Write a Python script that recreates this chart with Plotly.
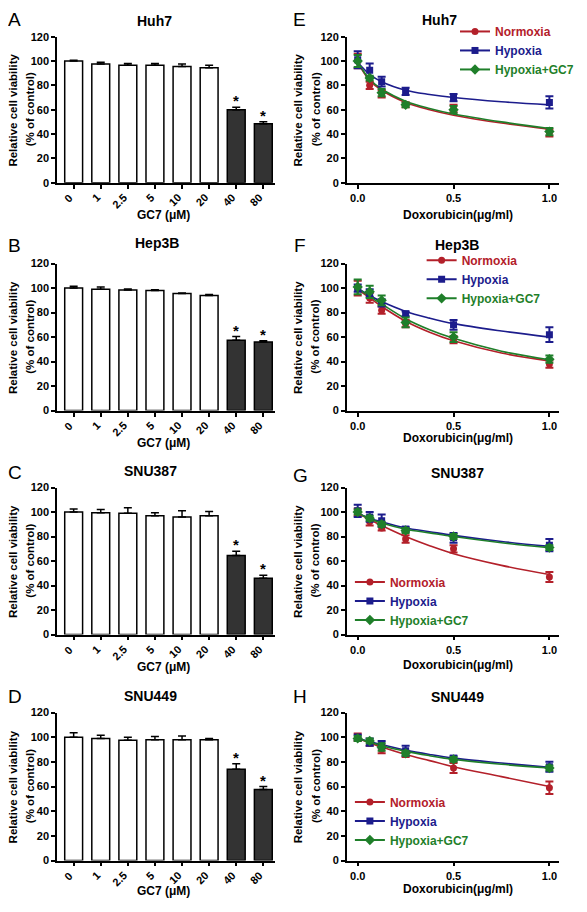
import plotly.graph_objects as go

# ---------------- DATA ----------------
gc7_conc = ["0", "1", "2.5", "5", "10", "20", "40", "80"]

huh7_bar = [100, 97.5, 96.5, 96.5, 95.5, 94.5, 60, 48.5]
huh7_bar_err = [0.7, 1.5, 1.5, 1.5, 2, 2, 2, 1.5]
hep3b_bar = [100, 99, 98.5, 98, 95.5, 94, 57.5, 56]
hep3b_bar_err = [1.5, 2, 0.8, 0.6, 0.5, 0.7, 3, 1]
snu387_bar = [100, 99.5, 99, 97, 96, 97, 64.5, 46]
snu387_bar_err = [2.5, 2.5, 4.5, 2.5, 5, 3.5, 3.5, 2.5]
snu449_bar = [100, 99, 97.5, 98, 98, 98, 74, 57.5]
snu449_bar_err = [3.5, 2.5, 2.5, 2.5, 3, 1, 4.5, 2.5]
bar_significant = [False, False, False, False, False, False, True, True]

dox = [0, 0.0625, 0.125, 0.25, 0.5, 1.0]
dox_ticks = [0, 0.5, 1.0]
dox_ticklabels = ["0.0", "0.5", "1.0"]
fit_x = [0, 0.0625, 0.125, 0.25, 0.375, 0.5, 0.75, 1.0]

huh7_norm = [100, 80, 73, 64, 61, 41]
huh7_norm_err = [6, 3, 3, 2, 3, 3]
huh7_hyp = [101, 92.5, 83, 75, 70, 66]
huh7_hyp_err = [7, 5.5, 4, 3, 3, 5]
huh7_gc7 = [100, 86, 74, 64, 60, 42]
huh7_gc7_err = [5, 2, 3, 2, 3, 3]
huh7_norm_fit = [99, 84, 76, 66, 60, 55.5, 49, 44]
huh7_hyp_fit = [99, 89, 83, 76, 72.5, 70, 66.5, 64]
huh7_gc7_fit = [99, 85, 77, 67, 61, 56.5, 50, 44.5]

hep3b_norm = [100, 92, 82, 71, 58, 38]
hep3b_norm_err = [6, 4, 3, 3, 3, 3]
hep3b_hyp = [100, 96, 88, 79, 70, 62]
hep3b_hyp_err = [3, 3, 3, 2, 4, 6]
hep3b_gc7 = [101, 97, 90, 72, 60, 42]
hep3b_gc7_err = [6, 5, 4, 4, 4, 3]
hep3b_norm_fit = [99, 92, 85, 73, 64, 57, 47, 40.5]
hep3b_hyp_fit = [100, 94, 89, 81, 75.5, 71, 65, 60]
hep3b_gc7_fit = [100, 93, 87, 75, 66, 59, 48.5, 41.5]

snu387_norm = [100, 92, 87, 78, 70, 47]
snu387_norm_err = [3, 3, 2, 3, 3, 4]
snu387_hyp = [101, 96, 93, 86, 79, 73]
snu387_hyp_err = [5, 4, 5, 2, 4, 5]
snu387_gc7 = [100, 95, 90, 85, 80, 71]
snu387_gc7_err = [2, 2, 2, 2, 2, 2]
snu387_norm_fit = [99, 94, 89, 80, 72.5, 66, 56.5, 49]
snu387_hyp_fit = [99, 95, 92, 87, 84, 81, 76, 72]
snu387_gc7_fit = [99, 94.5, 91, 86, 83, 80, 75, 71]

snu449_norm = [100, 95, 90, 86, 75, 59]
snu449_norm_err = [3, 2, 3, 2, 4, 5]
snu449_hyp = [100, 96, 94, 89, 83, 76]
snu449_hyp_err = [2, 3, 3, 4, 2, 4]
snu449_gc7 = [99, 97, 92, 87, 82, 75]
snu449_gc7_err = [2, 2, 3, 2, 2, 2]
snu449_norm_fit = [99, 95.5, 92, 86, 81, 76, 68, 60]
snu449_hyp_fit = [99, 96.5, 94, 89.5, 86, 83, 79, 75.5]
snu449_gc7_fit = [99, 96, 93, 88.5, 85, 82, 78, 75]

cell_lines = ["Huh7", "Hep3B", "SNU387", "SNU449"]
series_names = ["Normoxia", "Hypoxia", "Hypoxia+GC7"]

# ---------------- STYLE / LAYOUT ----------------
PAGE_W, PAGE_H = 587, 912
OFF = 8  # default body margin of the html page
W, H = PAGE_W - 2 * OFF, PAGE_H - 2 * OFF
FONT = "Liberation Sans, Arial, sans-serif"
RED, BLUE, GREEN = "#B3202A", "#1C1C8C", "#1F7F2A"
series_colors = [RED, BLUE, GREEN]
series_symbols = ["circle", "square", "diamond"]


def px_x(v):
    return (v - OFF) / W


def px_y(v):
    return 1 - (v - OFF) / H


left_x = (58, 280)
right_x = (353, 569)
rows_y = [(31, 179), (261, 410), (488, 637), (716, 866)]

bar_sets = [
    (huh7_bar, huh7_bar_err), (hep3b_bar, hep3b_bar_err),
    (snu387_bar, snu387_bar_err), (snu449_bar, snu449_bar_err),
]
line_sets = [
    [(huh7_norm, huh7_norm_err, huh7_norm_fit), (huh7_hyp, huh7_hyp_err, huh7_hyp_fit), (huh7_gc7, huh7_gc7_err, huh7_gc7_fit)],
    [(hep3b_norm, hep3b_norm_err, hep3b_norm_fit), (hep3b_hyp, hep3b_hyp_err, hep3b_hyp_fit), (hep3b_gc7, hep3b_gc7_err, hep3b_gc7_fit)],
    [(snu387_norm, snu387_norm_err, snu387_norm_fit), (snu387_hyp, snu387_hyp_err, snu387_hyp_fit), (snu387_gc7, snu387_gc7_err, snu387_gc7_fit)],
    [(snu449_norm, snu449_norm_err, snu449_norm_fit), (snu449_hyp, snu449_hyp_err, snu449_hyp_fit), (snu449_gc7, snu449_gc7_err, snu449_gc7_fit)],
]

letters_left = ["A", "B", "C", "D"]
letters_right = ["E", "F", "G", "H"]
letter_pos_left = [(15, 14), (15, 243), (15, 473), (15, 700)]
letter_pos_right = [(305, 14), (305, 243), (306, 476), (305, 700)]
title_pos_left = [(157, 15), (160, 240), (153, 471), (153, 699)]
title_pos_right = [(447, 14), (465, 242), (466, 473), (466, 700)]
xtitle_y_left = [212, 443, 670, 897]
xtitle_y_right = [212, 438, 668, 895]
legend_pos = [(463, 11), (429, 243), (356, 569), (356, 792)]

fig = go.Figure()
layout = dict(
    width=W, height=H, autosize=False,
    margin=dict(l=0, r=0, t=0, b=0),
    paper_bgcolor="white", plot_bgcolor="white",
    showlegend=True,
    font=dict(family=FONT, color="black"),
)
annotations = []


def axis_style():
    return dict(
        showline=True, linewidth=1.8, linecolor="black", mirror=False,
        ticks="outside", ticklen=4, tickwidth=1.5, tickcolor="black",
        showgrid=False, zeroline=False,
        tickfont=dict(family=FONT, size=11, color="black", weight="bold"),
    )


def add_axes(idx, xdom, ydom, xopts):
    xa = "xaxis" if idx == 1 else f"xaxis{idx}"
    ya = "yaxis" if idx == 1 else f"yaxis{idx}"
    xd = axis_style()
    xd.update(domain=[px_x(xdom[0]), px_x(xdom[1])], anchor=f"y{idx}" if idx > 1 else "y")
    xd.update(xopts)
    yd = axis_style()
    yd.update(domain=[px_y(ydom[1]), px_y(ydom[0])], anchor=f"x{idx}" if idx > 1 else "x",
              range=[0, 120], tickvals=list(range(0, 121, 20)))
    layout[xa] = xd
    layout[ya] = yd


def ann(text, x, y, size, bold=True, angle=0, color="black"):
    annotations.append(dict(
        text=text, x=px_x(x), y=px_y(y), xref="paper", yref="paper",
        xanchor="center", yanchor="middle", showarrow=False, textangle=angle,
        font=dict(family=FONT, size=size, color=color, weight="bold" if bold else "normal"),
    ))


# ---- Left column: bar charts ----
for r in range(4):
    idx = r + 1
    xr = f"x{idx}" if idx > 1 else "x"
    yr = f"y{idx}" if idx > 1 else "y"
    vals, errs = bar_sets[r]
    add_axes(idx, left_x, rows_y[r], dict(
        range=[-0.61, 7.44], tickmode="array", tickvals=list(range(len(gc7_conc))),
        showticklabels=False,
    ))
    fills = ["#333333" if s else "white" for s in bar_significant]
    fig.add_trace(go.Bar(
        x=list(range(len(gc7_conc))), y=vals, width=0.66,
        marker=dict(color=fills, line=dict(color="black", width=1.5)),
        error_y=dict(type="data", array=errs, arrayminus=[0] * len(errs), symmetric=False,
                     color="black", thickness=1.5, width=4),
        xaxis=xr, yaxis=yr, showlegend=False,
    ))
    # rotated category labels
    for i, lab in enumerate(gc7_conc):
        annotations.append(dict(
            text=lab, x=i, y=px_y(rows_y[r][1]), xref=xr, yref="paper",
            xanchor="right", yanchor="top", xshift=4, yshift=-6, textangle=-45,
            showarrow=False, font=dict(family=FONT, size=11, color="black", weight="bold"),
        ))
    for i, s in enumerate(bar_significant):
        if s:
            annotations.append(dict(
                text="*", x=i, y=vals[i] + errs[i], xref=xr, yref=yr,
                xanchor="center", yanchor="bottom", yshift=-4, showarrow=False,
                font=dict(family=FONT, size=15, color="black", weight="bold"),
            ))
    ann(letters_left[r], *letter_pos_left[r], 19, bold=False)
    ann(cell_lines[r], *title_pos_left[r], 14)
    ann("Relative cell viability", 13, (rows_y[r][0] + rows_y[r][1]) / 2, 11.5, angle=-90)
    ann("(% of control)", 30, (rows_y[r][0] + rows_y[r][1]) / 2, 11.5, angle=-90)
    ann("GC7 (\u03bcM)", 166, xtitle_y_left[r], 12)

# ---- Right column: dose-response curves ----
for r in range(4):
    idx = r + 5
    xa = f"x{idx}"
    ya = f"y{idx}"
    add_axes(idx, right_x, rows_y[r], dict(
        range=[-0.056, 1.051], tickmode="array", tickvals=dox_ticks, ticktext=dox_ticklabels,
        tickangle=0,
    ))
    legname = "legend" if r == 0 else f"legend{r + 1}"
    lx, ly = legend_pos[r]
    layout[legname] = dict(
        x=px_x(lx), y=px_y(ly), xanchor="left", yanchor="top",
        bgcolor="rgba(0,0,0,0)", borderwidth=0,
        font=dict(family=FONT, size=12, weight="bold"), tracegroupgap=0,
    )
    for k in range(3):
        vals, errs, fit = line_sets[r][k]
        fig.add_trace(go.Scatter(
            x=fit_x, y=fit, mode="lines", line=dict(color=series_colors[k], width=1.6, shape="spline"),
            xaxis=xa, yaxis=ya, showlegend=False, hoverinfo="skip",
        ))
    for k in range(3):
        vals, errs, fit = line_sets[r][k]
        col = series_colors[k]
        # points separated by gaps: legend shows line+marker, points are not joined
        xs, ys, es = [], [], []
        for xv, yv, ev in zip(dox, vals, errs):
            xs += [xv, None]
            ys += [yv, None]
            es += [ev, 0]
        fig.add_trace(go.Scatter(
            x=xs, y=ys, mode="lines+markers", connectgaps=False,
            name=f"<span style='color:{col}'>{series_names[k]}</span>",
            line=dict(color=col, width=2),
            marker=dict(symbol=series_symbols[k], size=7 if k != 2 else 8, color=col),
            error_y=dict(type="data", array=es, color=col, thickness=2, width=4),
            xaxis=xa, yaxis=ya, legend=legname,
        ))
    ann(letters_right[r], *letter_pos_right[r], 19, bold=False)
    ann(cell_lines[r], *title_pos_right[r], 14)
    ann("Relative cell viability", 303, (rows_y[r][0] + rows_y[r][1]) / 2, 11.5, angle=-90)
    ann("(% of control)", 321, (rows_y[r][0] + rows_y[r][1]) / 2, 11.5, angle=-90)
    ann("Doxorubicin(\u03bcg/ml)", 466, xtitle_y_right[r], 12)

layout["annotations"] = annotations
fig.update_layout(**layout)
fig.write_html("out.html")
